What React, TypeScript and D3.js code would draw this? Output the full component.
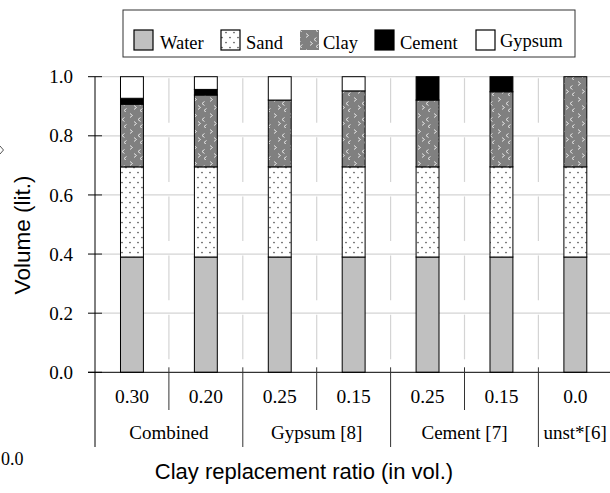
import React from "react";
import * as d3 from "d3";

const categories = ["0.30", "0.20", "0.25", "0.15", "0.25", "0.15", "0.0"];
const groups = [
  { label: "Combined", from: 0, to: 2 },
  { label: "Gypsum [8]", from: 2, to: 4 },
  { label: "Cement [7]", from: 4, to: 6 },
  { label: "unst*[6]", from: 6, to: 7 },
];
const seriesNames = ["Water", "Sand", "Clay", "Cement", "Gypsum"];
const water = [0.39, 0.39, 0.39, 0.39, 0.39, 0.39, 0.39];
const sand = [0.305, 0.305, 0.305, 0.305, 0.305, 0.305, 0.305];
const clay = [0.212, 0.243, 0.226, 0.257, 0.226, 0.254, 0.305];
const cement = [0.02, 0.019, 0, 0, 0.079, 0.051, 0];
const gypsum = [0.073, 0.043, 0.079, 0.048, 0, 0, 0];
const yTicks = [0, 0.2, 0.4, 0.6, 0.8, 1.0];

const W = 610;
const H = 493;
const serif = "'Liberation Serif', 'Times New Roman', serif";
const sans = "'Liberation Sans', Arial, sans-serif";

const fills: Record<string, string> = {
  Water: "#c0c0c0",
  Sand: "url(#sandPat)",
  Clay: "url(#clayPat)",
  Cement: "#000000",
  Gypsum: "#ffffff",
};

export default function App() {
  const rows = categories.map((c, i) => ({
    idx: i,
    Water: water[i],
    Sand: sand[i],
    Clay: clay[i],
    Cement: cement[i],
    Gypsum: gypsum[i],
  }));
  const stack = d3.stack<any>().keys(seriesNames);
  const stacked = stack(rows);

  const x = d3
    .scaleBand<number>()
    .domain(categories.map((_, i) => i))
    .range([95, 612.3])
    .paddingInner(0.69)
    .paddingOuter(0.345);
  const step = x.step();
  const left = 95;
  const bound = (i: number) => left + i * step;
  const y = d3.scaleLinear().domain([0, 1]).range([372.3, 76.7]);
  const axisY = y(0);

  const sepSegs: { x: number; y1: number; y2: number }[] = [];
  for (let i = 1; i < categories.length; i++) {
    for (let t = 0; t < yTicks.length - 1; t++) {
      const top = y(yTicks[t + 1]) + 1.5;
      const bot = y(yTicks[t]) - 13;
      sepSegs.push({ x: bound(i), y1: top, y2: bot });
    }
  }
  const groupBounds = new Set(groups.map((g) => g.to));

  const legendX = [134, 221, 300, 375, 476];
  const legendTextX = [160, 246, 323, 400, 500];

  return (
    <svg
      width={W}
      height={H}
      style={{ position: "absolute", left: 0, top: 0, background: "#fff" }}
      fontFamily={serif}
    >
      <defs>
        <pattern id="sandPat" patternUnits="userSpaceOnUse" width="8" height="10">
          <rect width="8" height="10" fill="#ffffff" />
          <circle cx="2" cy="2.5" r="0.85" fill="#555" />
          <circle cx="6" cy="7.5" r="0.85" fill="#555" />
        </pattern>
        <pattern id="clayPat" patternUnits="userSpaceOnUse" width="16" height="16">
          <rect width="16" height="16" fill="#808080" />
          <path d="M2,1.5 L4.5,3.5 L2,5.5" stroke="#e4e4e4" strokeWidth="1" fill="none" />
          <path d="M12.5,5.5 L10,7.5 L12.5,9.5" stroke="#e4e4e4" strokeWidth="1" fill="none" />
          <path d="M6,9.5 L8.5,11.5 L6,13.5" stroke="#e4e4e4" strokeWidth="1" fill="none" />
          <path d="M14.5,12.5 L12,14.5 L14.5,16.5" stroke="#e4e4e4" strokeWidth="1" fill="none" />
        </pattern>
      </defs>

      {yTicks.slice(1).map((t) => (
        <line key={"g" + t} x1={102} x2={W} y1={y(t)} y2={y(t)} stroke="#d4d4d4" strokeWidth={1.2} />
      ))}
      {sepSegs.map((s, i) => (
        <line key={"s" + i} x1={s.x} x2={s.x} y1={s.y1} y2={s.y2} stroke="#d4d4d4" strokeWidth={1.2} />
      ))}

      {stacked.map((layer) => (
        <g key={layer.key}>
          {layer.map((d, i) => {
            const h = y(d[0]) - y(d[1]);
            if (h <= 0.01) return null;
            return (
              <rect
                key={i}
                x={x(i)}
                y={y(d[1])}
                width={x.bandwidth()}
                height={h}
                fill={fills[layer.key]}
                stroke="#000"
                strokeWidth={1}
              />
            );
          })}
        </g>
      ))}

      <line x1={left} x2={left} y1={y(1)} y2={447} stroke="#000" strokeWidth={1} />
      <line x1={88} x2={W} y1={axisY} y2={axisY} stroke="#000" strokeWidth={1} />
      {yTicks.map((t) => (
        <g key={"t" + t}>
          <line x1={88} x2={102} y1={y(t)} y2={y(t)} stroke="#000" strokeWidth={1} />
          <text x={73} y={y(t)} dy="0.35em" textAnchor="end" fontSize={19} fill="#000">
            {t.toFixed(1)}
          </text>
        </g>
      ))}
      {categories.slice(1).map((_, k) => {
        const i = k + 1;
        const isGroup = groupBounds.has(i);
        return (
          <line
            key={"b" + i}
            x1={bound(i)}
            x2={bound(i)}
            y1={axisY - 5}
            y2={isGroup ? 447 : 410}
            stroke="#333"
            strokeWidth={1}
          />
        );
      })}

      {categories.map((c, i) => (
        <text
          key={"c" + i}
          x={(x(i) as number) + x.bandwidth() / 2}
          y={403}
          textAnchor="middle"
          fontSize={19.5}
          fill="#000"
        >
          {c}
        </text>
      ))}
      {groups.map((g) =>
        g.to - g.from > 1 ? (
          <text
            key={g.label}
            x={(bound(g.from) + bound(g.to)) / 2}
            y={439}
            textAnchor="middle"
            fontSize={19}
            fill="#000"
          >
            {g.label}
          </text>
        ) : (
          <text key={g.label} x={bound(g.from) + 5} y={439} textAnchor="start" fontSize={19} fill="#000">
            {g.label}
          </text>
        )
      )}

      <text x={1} y={465} textAnchor="start" fontSize={18} fill="#000">
        0.0
      </text>
      <path d="M0,146 L3.5,150 L0,154" stroke="#555" strokeWidth={1} fill="none" />

      <text
        transform="translate(30,235) rotate(-90)"
        textAnchor="middle"
        fontFamily={sans}
        fontSize={22.5}
        fill="#000"
      >
        Volume (lit.)
      </text>
      <text x={304} y={479} textAnchor="middle" fontFamily={sans} fontSize={22} fill="#000">
        Clay replacement ratio (in vol.)
      </text>

      <rect x={123} y={10} width={452} height={47} fill="#fff" stroke="#333" strokeWidth={1} />
      {seriesNames.map((s, i) => (
        <g key={"l" + s}>
          <rect
            x={legendX[i]}
            y={30}
            width={19}
            height={20}
            fill={fills[s]}
            stroke={s === "Clay" ? "none" : "#000"}
            strokeWidth={1.2}
          />
          <text x={legendTextX[i]} y={s === "Gypsum" ? 47 : 49} fontSize={18.5} fill="#000">
            {s}
          </text>
        </g>
      ))}
    </svg>
  );
}
